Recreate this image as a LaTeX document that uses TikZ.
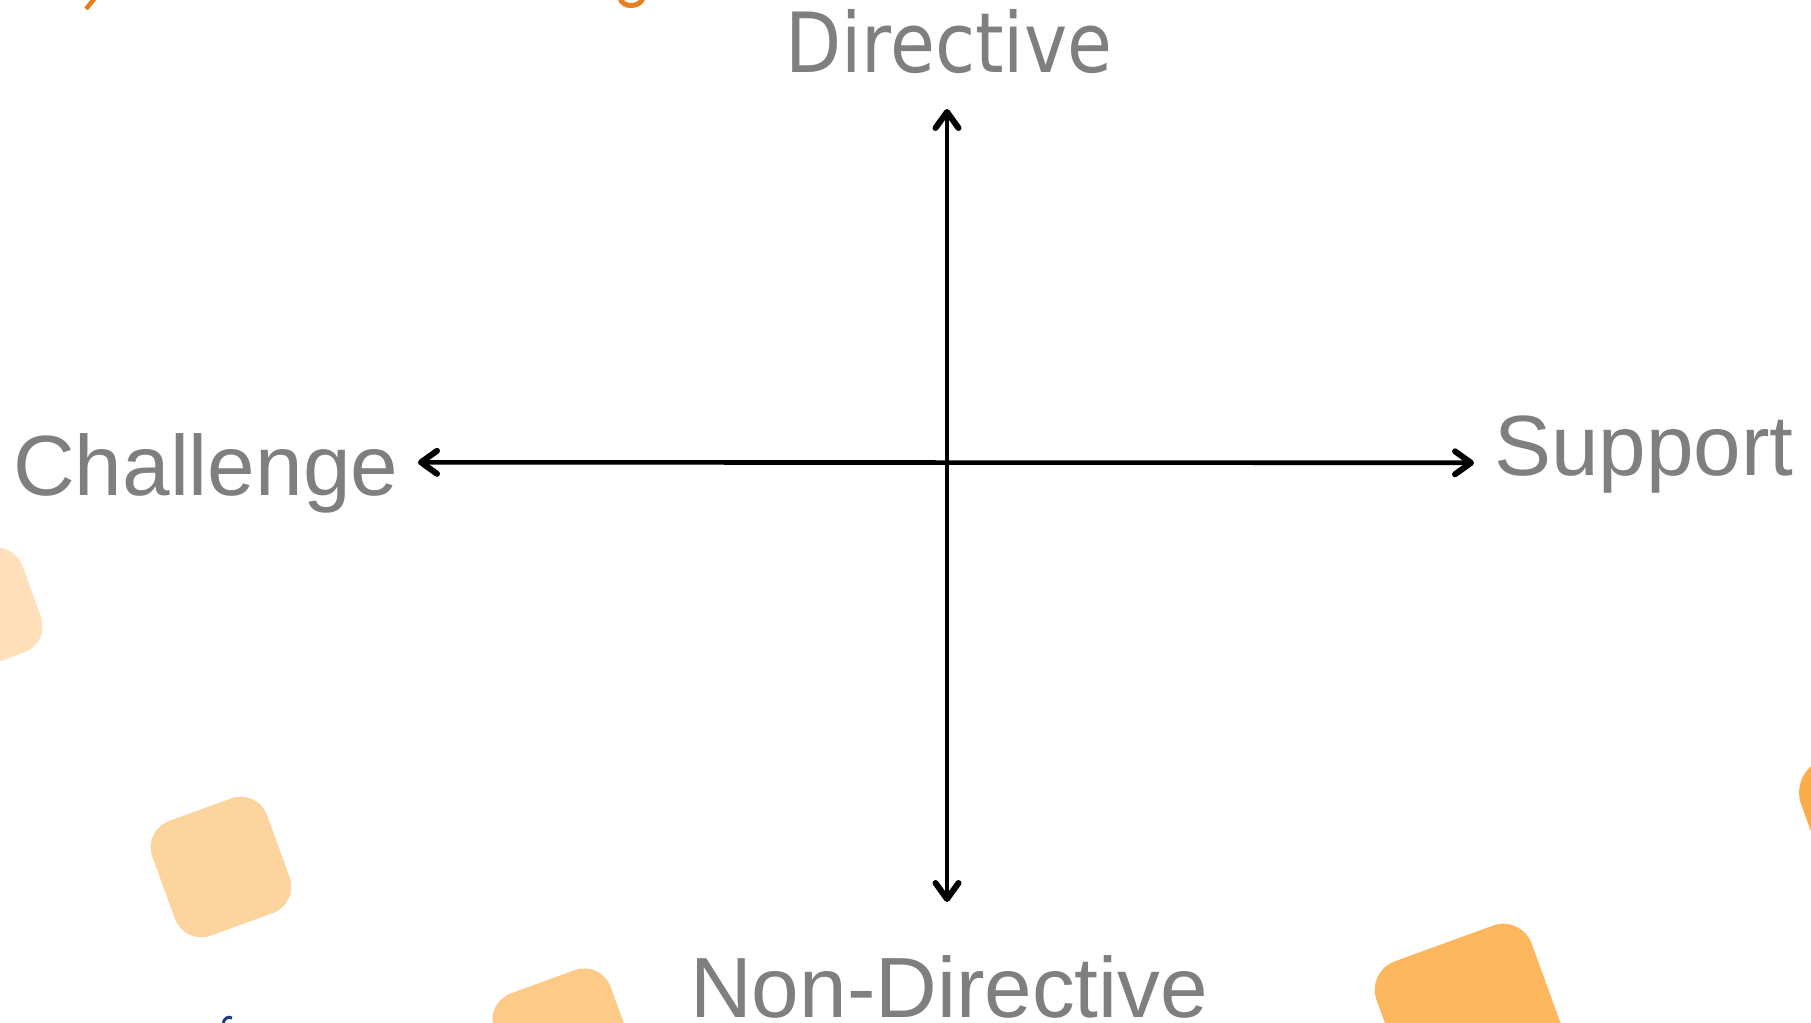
\documentclass[tikz,border=0pt]{standalone}
\usepackage{fontspec}
\setmainfont{Liberation Sans}
\newfontfamily\dirfont[FakeStretch=0.88]{DejaVu Sans}
\usetikzlibrary{arrows.meta}
\definecolor{labelgray}{HTML}{7F7F7F}
\definecolor{peachA}{HTML}{FFE0BA}
\definecolor{peachB}{HTML}{FCD49D}
\definecolor{peachC}{HTML}{FECA87}
\definecolor{peachD}{HTML}{FDB75E}
\definecolor{peachE}{HTML}{FCAC4A}
\definecolor{fragorange}{HTML}{E67E22}
\definecolor{fragnavy}{HTML}{1F3C88}
\tikzset{
  barbtip/.tip={Straight Barb[length=16pt,width=23pt,line width=6pt,round]},
  axisline/.style={line width=4.6pt, draw=black, barbtip-barbtip},
  lbl/.style={inner sep=0pt, anchor=base west, text=labelgray,
              font=\fontsize{85.5}{90}\selectfont},
  toplbl/.style={inner sep=0pt, anchor=base west, text=labelgray,
              font=\dirfont\fontsize{83}{90}\selectfont},
  tile/.style={shape=rectangle, inner sep=0pt, rounded corners=#1, rotate=20},
  tile/.default=28pt
}
\begin{document}
\begin{tikzpicture}[x=1pt,y=-1pt]
\useasboundingbox (0,0) rectangle (1811,1022);
\fill[white] (0,0) rectangle (1811,1022);
\begin{scope}
\clip (0,0) rectangle (1811,1022);
% decorative tiles
\node[tile, fill=peachA, minimum size=110pt] (t1) at (-20,610) {};
\node[tile, fill=peachB, minimum size=122pt] (t2) at (221,867) {};
\node[tile, fill=peachC, minimum size=124pt] (t3) at (564,1040) {};
\node[tile=30pt, fill=peachD, minimum size=165pt] (t4) at (1472,1021) {};
\node[tile=35pt, fill=peachE, minimum size=165pt] (t5) at (1895,821) {};
% cut-off text fragments
\draw[fragorange, line width=4.5pt] (86,9) -- (95,-2);
\draw[fragorange, line width=5pt] (620,-2) .. controls (622,8) and (640,8) .. (643,-2);
\draw[fragnavy, line width=3pt] (223,1024) .. controls (224,1018) and (228,1016) .. (232,1018);
\end{scope}
% axes
\coordinate (vtop) at (947,109);
\coordinate (vbot) at (947,902);
\coordinate (hleft) at (418,462.3);
\coordinate (hright) at (1474,462.8);
\draw[axisline] (vbot) -- (vtop);
\draw[axisline] (hleft) -- (hright);
% labels
\node[toplbl] (directive) at (785,73) {Directive};
\node[lbl] (nondirective) at (690,1017) {Non-Directive};
\node[lbl] (challenge) at (13,495) {Challenge};
\node[lbl] (support) at (1494,475) {Support};
\end{tikzpicture}
\end{document}
